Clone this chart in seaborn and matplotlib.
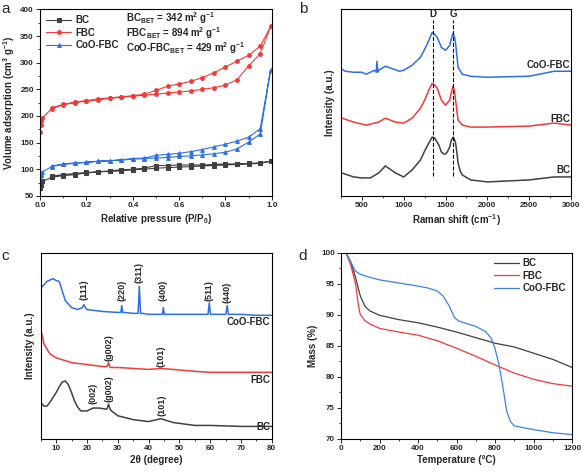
import matplotlib
matplotlib.use("Agg")
import pandas as pd
import matplotlib.pyplot as plt
import seaborn as sns
from matplotlib.ticker import MultipleLocator

sns.set_theme(style="ticks")
plt.rcParams["font.family"] = ["Liberation Sans", "DejaVu Sans"]
plt.rcParams["font.weight"] = "bold"
plt.rcParams["axes.labelweight"] = "bold"
plt.rcParams["mathtext.default"] = "regular"

C_BC = "#404040"
C_FBC = "#f23a3a"
C_COO = "#2c6fe6"

# ---- a: N2 isotherms ----
p_ads = [0.001, 0.003, 0.005, 0.01, 0.05, 0.10, 0.15, 0.20, 0.25, 0.30, 0.35, 0.40,
         0.45, 0.50, 0.55, 0.60, 0.65, 0.70, 0.75, 0.80, 0.85, 0.90, 0.95, 0.995]
p_des = [0.95, 0.90, 0.85, 0.80, 0.75, 0.70, 0.65, 0.60, 0.55, 0.50, 0.45, 0.40,
         0.35, 0.30, 0.25, 0.20, 0.15, 0.10, 0.05]
bc_ads = [64, 71, 74, 77, 85, 88, 90, 93, 95, 96, 97, 99, 100, 102, 103, 104, 105, 106,
          107, 108, 109, 110, 111, 115]
bc_des = [112, 111, 110, 110, 109, 108, 108, 108, 107, 107, 102, 100, 99, 97, 95, 94, 92, 90, 87]
fbc_ads = [170, 183, 190, 196, 214, 221, 225, 228, 230, 233, 235, 237, 239, 241, 243, 245,
           247, 250, 253, 258, 268, 294, 317, 368]
fbc_des = [331, 314, 303, 292, 281, 272, 265, 260, 256, 248, 241, 238, 236, 234, 232, 229, 226, 222, 215]
coo_ads = [86, 89, 91, 95, 105, 109, 111, 113, 115, 116, 117, 119, 120, 121, 122, 124,
           125, 127, 129, 132, 138, 151, 166, 287]
coo_des = [176, 160, 153, 147, 142, 137, 133, 130, 128, 126, 121, 120, 118, 116, 115, 113, 112, 110, 106]
bet_labels = [r"BC$_{BET}$ = 342 m$^{2}$ g$^{-1}$",
              r"FBC$_{BET}$ = 894 m$^{2}$ g$^{-1}$",
              r"CoO-FBC$_{BET}$ = 429 m$^{2}$ g$^{-1}$"]

# ---- b: Raman ----
ram_bc_x = [260, 400, 500, 600, 700, 780, 850, 900, 1000, 1100, 1200, 1250, 1300, 1340, 1370,
            1420, 1450, 1480, 1500, 1520, 1550, 1570, 1590, 1605, 1620, 1635, 1650, 1675, 1700,
            1800, 2000, 2500, 2800, 3000]
ram_bc_y = [23, 19, 18, 18, 23, 30, 26, 23, 19, 26, 36, 45, 53, 59, 58, 51, 44, 42, 42, 44, 49,
            56, 59, 57, 53, 44, 33, 25, 21, 16, 14, 16, 19, 19]
ram_fbc_x = [260, 400, 550, 700, 780, 900, 1000, 1100, 1200, 1250, 1300, 1340, 1370, 1400, 1450,
             1500, 1550, 1570, 1590, 1605, 1620, 1650, 1700, 1800, 2000, 2500, 2800, 3000]
ram_fbc_y = [78, 74, 71, 74, 78, 74, 73, 78, 88, 96, 106, 113, 111, 108, 96, 91, 96, 104, 110,
             106, 96, 76, 71, 69, 69, 70, 73, 71]
ram_coo_x = [260, 300, 400, 500, 550, 650, 670, 680, 690, 700, 780, 850, 950, 1000, 1100, 1200,
             1250, 1300, 1340, 1370, 1400, 1450, 1500, 1550, 1570, 1590, 1605, 1620, 1650, 1700,
             1800, 2000, 2500, 2800, 3000]
ram_coo_y = [127, 125, 124, 124, 122, 126, 124, 135, 124, 126, 130, 128, 125, 126, 131, 139,
             147, 156, 164, 162, 159, 149, 146, 151, 158, 163, 160, 153, 129, 122, 120, 119, 120,
             125, 125]
d_band = 1350
g_band = 1595

# ---- c: XRD ----
xrd_coo_x = [5, 7, 9, 10, 11, 12, 13, 15, 17, 18.5, 19, 19.5, 20, 25, 30, 31, 31.3, 31.6, 32,
             35, 36.6, 37, 37.4, 38, 40, 44.5, 44.8, 45.1, 46, 50, 55, 59.3, 59.7, 60.1, 61,
             65.1, 65.5, 65.9, 67, 70, 75, 80]
xrd_coo_y = [156, 163, 166, 164, 163, 153, 143, 136, 134, 136, 139, 136, 134, 132, 131, 131,
             138, 131, 131, 130, 130, 158, 130, 130, 129, 129, 136, 129, 129, 129, 129, 129,
             141, 129, 129, 129, 138, 129, 129, 129, 128, 128]
xrd_fbc_x = [5, 6, 7, 8, 10, 15, 20, 25, 26.5, 27, 27.5, 30, 35, 40, 44, 48, 55, 60, 70, 80]
xrd_fbc_y = [114, 99, 93, 88, 84, 79, 77, 75, 75, 79, 74, 74, 73, 72, 73, 72, 70, 69, 69, 69]
xrd_bc_x = [5, 6, 7, 8, 9, 10, 11, 12, 13, 14, 15, 16, 17, 18, 20, 22, 24, 26, 26.5, 27,
            27.5, 28, 30, 35, 40, 44, 45, 48, 55, 60, 70, 80]
xrd_bc_y = [38, 34, 34, 38, 43, 48, 54, 59, 60, 56, 48, 39, 33, 29, 29, 32, 32, 31, 31, 36,
            31, 29, 24, 20, 18, 21, 20, 17, 14, 14, 13, 13]
coo_peaks = ["(111)", "(220)", "(311)", "(400)", "(511)", "(440)"]
coo_peak_x = [19, 31.3, 37, 44.8, 59.7, 65.5]
coo_peak_y = [144, 143, 161, 143, 143, 141]
fbc_peaks = ["(g002)", "(101)"]
fbc_peak_x = [27, 44]
fbc_peak_y = [81, 75]
bc_peaks = ["(002)", "(g002)", "(101)"]
bc_peak_x = [22, 27, 44.5]
bc_peak_y = [36, 38, 24]

# ---- d: TGA ----
tga_bc_x = [25, 50, 75, 100, 125, 150, 200, 300, 400, 500, 600, 700, 800, 900, 1000, 1100, 1200]
tga_bc_y = [100, 98.5, 96, 93, 91.3, 90.6, 89.9, 89.2, 88.7, 88, 87.2, 86.3, 85.4, 84.8,
            83.8, 82.8, 81.5]
tga_fbc_x = [25, 50, 75, 90, 100, 125, 150, 200, 300, 400, 500, 600, 700, 800, 900, 1000, 1100, 1200]
tga_fbc_y = [100, 98, 95, 91.5, 90, 89, 88.5, 87.8, 87.2, 86.7, 85.8, 84.6, 83.3, 81.9, 80.6,
             79.6, 78.9, 78.5]
tga_coo_x = [25, 50, 75, 100, 150, 200, 300, 400, 450, 500, 530, 560, 590, 610, 650, 700, 750,
             780, 800, 820, 840, 860, 880, 900, 1000, 1100, 1200]
tga_coo_y = [100, 98.5, 97, 96.5, 96, 95.6, 95.1, 94.6, 94.3, 93.8, 93, 91.5, 89.5, 89, 88.6,
             88.1, 87.3, 86.2, 84.5, 82, 78.5, 74.5, 72.8, 72.1, 71.5, 71, 70.7]

fig = plt.figure(figsize=(5.82, 4.72), dpi=100)
ax_a = fig.add_axes([0.069, 0.585, 0.398, 0.395])
ax_b = fig.add_axes([0.586, 0.585, 0.395, 0.395])
ax_c = fig.add_axes([0.070, 0.070, 0.397, 0.395])
ax_d = fig.add_axes([0.586, 0.070, 0.397, 0.395])

LAB = 7
TICK = 5.8


def style(ax):
    for s in ax.spines.values():
        s.set_visible(True)
        s.set_linewidth(0.8)
        s.set_color("black")
    ax.tick_params(which="major", direction="out", length=3, width=0.7, labelsize=TICK, pad=1.5)
    ax.tick_params(which="minor", direction="out", length=1.6, width=0.6)
    for t in ax.get_xticklabels() + ax.get_yticklabels():
        t.set_fontweight("bold")


# panel a
for ads, des, col, mk, name in [(bc_ads, bc_des, C_BC, "s", "BC"),
                                (fbc_ads, fbc_des, C_FBC, "o", "FBC"),
                                (coo_ads, coo_des, C_COO, "^", "CoO-FBC")]:
    df = pd.DataFrame({"p": p_ads + p_des, "v": ads + des})
    sns.lineplot(data=df, x="p", y="v", sort=False, estimator=None, color=col, marker=mk,
                 markersize=2.7, markeredgecolor=col, linewidth=0.8, label=name, ax=ax_a)
ax_a.set_xlim(0, 1.0)
ax_a.set_ylim(50, 400)
ax_a.xaxis.set_major_locator(MultipleLocator(0.2))
ax_a.xaxis.set_minor_locator(MultipleLocator(0.1))
ax_a.yaxis.set_major_locator(MultipleLocator(50))
ax_a.yaxis.set_minor_locator(MultipleLocator(25))
ax_a.set_xlabel(r"Relative pressure (P/P$_{0}$)", fontsize=LAB, labelpad=2)
ax_a.set_ylabel(r"Volume adsorption (cm$^{3}$ g$^{-1}$)", fontsize=LAB, labelpad=2)
ax_a.legend(loc="upper left", frameon=False, prop={"weight": "bold", "size": 7},
            handlelength=2.6, labelspacing=0.25, borderaxespad=0.2, handletextpad=0.4)
for i, t in enumerate(bet_labels):
    ax_a.text(0.37, 383 - i * 28, t, fontsize=7, fontweight="bold", va="center")
style(ax_a)

# panel b
for xs, ys, col in [(ram_bc_x, ram_bc_y, C_BC), (ram_fbc_x, ram_fbc_y, C_FBC),
                    (ram_coo_x, ram_coo_y, C_COO)]:
    sns.lineplot(x=xs, y=ys, sort=False, estimator=None, color=col, linewidth=1.1, ax=ax_b)
ax_b.set_xlim(250, 3000)
ax_b.set_ylim(0, 187)
ax_b.set_yticks([])
ax_b.xaxis.set_major_locator(MultipleLocator(500))
ax_b.xaxis.set_minor_locator(MultipleLocator(250))
ax_b.vlines([d_band, g_band], 20, 176, colors="black", linestyles="--", linewidth=0.8)
ax_b.text(d_band, 177, "D", ha="center", va="bottom", fontsize=7, fontweight="bold")
ax_b.text(g_band, 177, "G", ha="center", va="bottom", fontsize=7, fontweight="bold")
for t, y in [("CoO-FBC", 131), ("FBC", 77), ("BC", 26)]:
    ax_b.text(2990, y, t, ha="right", va="center", fontsize=7, fontweight="bold")
ax_b.set_xlabel(r"Raman shift (cm$^{-1}$)", fontsize=LAB, labelpad=2)
ax_b.set_ylabel("Intensity (a.u.)", fontsize=LAB, labelpad=4)
style(ax_b)

# panel c
for xs, ys, col in [(xrd_bc_x, xrd_bc_y, C_BC), (xrd_fbc_x, xrd_fbc_y, C_FBC),
                    (xrd_coo_x, xrd_coo_y, C_COO)]:
    sns.lineplot(x=xs, y=ys, sort=False, estimator=None, color=col, linewidth=1.1, ax=ax_c)
ax_c.set_xlim(5, 80)
ax_c.set_ylim(0, 193)
ax_c.set_yticks([])
ax_c.xaxis.set_major_locator(MultipleLocator(10))
ax_c.xaxis.set_minor_locator(MultipleLocator(5))
for names, xs, ys in [(coo_peaks, coo_peak_x, coo_peak_y), (fbc_peaks, fbc_peak_x, fbc_peak_y),
                      (bc_peaks, bc_peak_x, bc_peak_y)]:
    for n, x, y in zip(names, xs, ys):
        ax_c.text(x, y, n, rotation=90, ha="center", va="bottom", fontsize=6.5, fontweight="bold")
for t, y in [("CoO-FBC", 121), ("FBC", 61), ("BC", 12)]:
    ax_c.text(79.5, y, t, ha="right", va="center", fontsize=7, fontweight="bold")
ax_c.set_xlabel("2θ (degree)", fontsize=LAB, labelpad=2)
ax_c.set_ylabel("Intensity (a.u.)", fontsize=LAB, labelpad=4)
style(ax_c)

# panel d
for xs, ys, col, name in [(tga_bc_x, tga_bc_y, C_BC, "BC"), (tga_fbc_x, tga_fbc_y, C_FBC, "FBC"),
                          (tga_coo_x, tga_coo_y, "#3b82f0", "CoO-FBC")]:
    sns.lineplot(x=xs, y=ys, sort=False, estimator=None, color=col, linewidth=0.9,
                 label=name, ax=ax_d)
ax_d.set_xlim(0, 1200)
ax_d.set_ylim(70, 100)
ax_d.xaxis.set_major_locator(MultipleLocator(200))
ax_d.xaxis.set_minor_locator(MultipleLocator(100))
ax_d.yaxis.set_major_locator(MultipleLocator(5))
ax_d.yaxis.set_minor_locator(MultipleLocator(2.5))
ax_d.set_xlabel("Temperature (°C)", fontsize=LAB, labelpad=2)
ax_d.set_ylabel("Mass (%)", fontsize=LAB, labelpad=2)
ax_d.legend(loc="upper right", frameon=False, prop={"weight": "bold", "size": 7},
            handlelength=2.6, labelspacing=0.25, borderaxespad=0.2, handletextpad=0.4)
style(ax_d)

for lab, x, y in [("a", 0.003, 0.995), ("b", 0.513, 0.995), ("c", 0.003, 0.473), ("d", 0.513, 0.473)]:
    fig.text(x, y, lab, fontsize=11, fontweight="normal", va="top")

fig.savefig("out.png", dpi=100)
